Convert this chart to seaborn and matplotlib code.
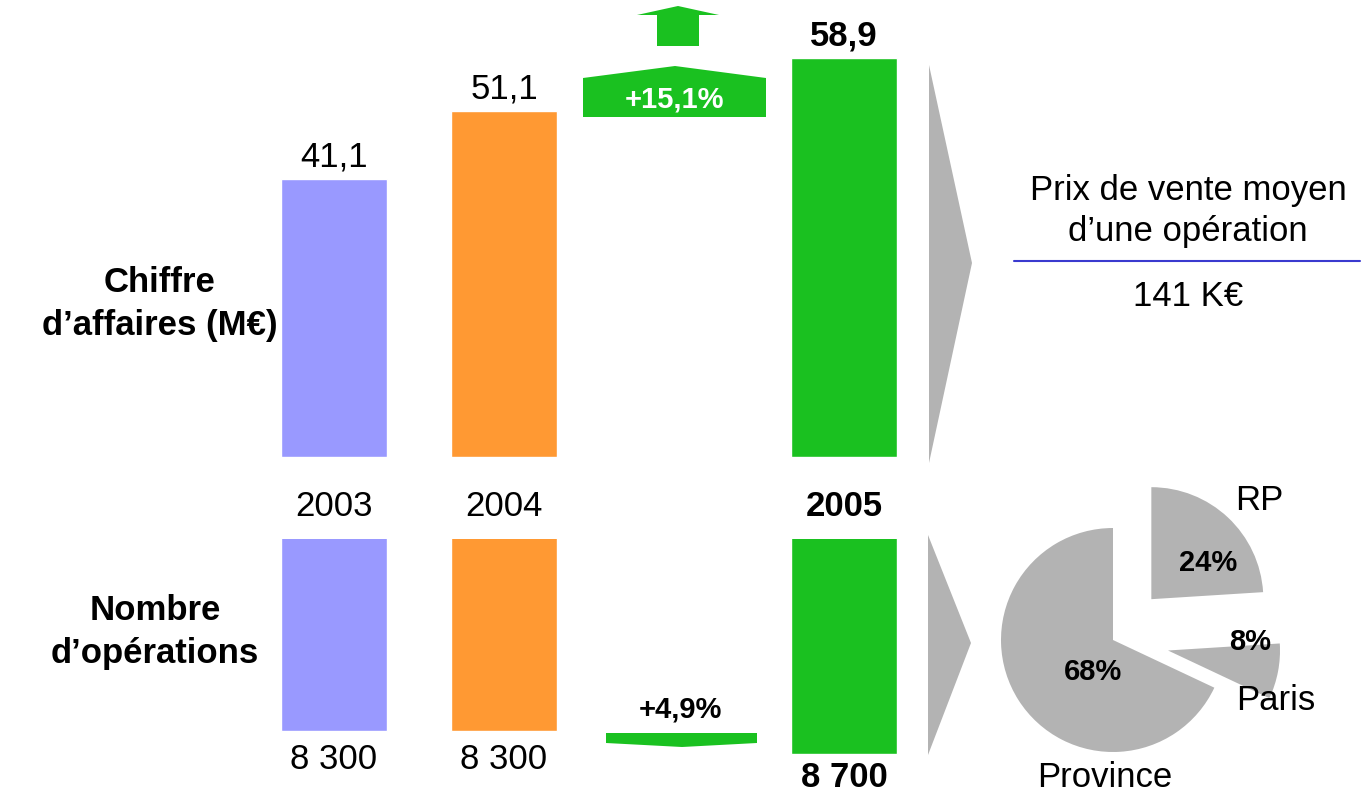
import numpy as np
import pandas as pd
import matplotlib
matplotlib.use('Agg')
import matplotlib.pyplot as plt
import seaborn as sns
from matplotlib.patches import Polygon

# data
years = ['2003', '2004', '2005']
chiffre_affaires = [41.1, 51.1, 58.9]      # M€
nb_operations = [8300, 8300, 8700]
bar_colors = ['#9999ff', '#ff9933', '#1ac120']

growth_ca = '+15,1%'
growth_ops = '+4,9%'
prix_moyen = '141 K€'

zones = ['Province', 'Paris', 'RP']
zone_shares = [68, 8, 24]

W, H = 1362, 799
GREEN = '#1ac120'
GREY = '#b3b3b3'

sns.set_theme(style='white')
plt.rcParams['font.family'] = ['Liberation Sans', 'DejaVu Sans']
plt.rcParams['text.color'] = 'black'
plt.rcParams['xtick.color'] = 'black'
plt.rcParams['axes.labelcolor'] = 'black'

fig = plt.figure(figsize=(W / 100, H / 100), dpi=100)


def px_axes(left, top, width, height):
    # axes placed with pixel coords measured from the top-left corner
    ax = fig.add_axes([left / W, 1 - (top + height) / H, width / W, height / H])
    ax.patch.set_visible(False)
    return ax


df = pd.DataFrame({'annee': years, 'ca': chiffre_affaires, 'ops': nb_operations})
palette = dict(zip(years, bar_colors))
slots = ['2003', '2004', 'gap', '2005']

# --- chiffre d'affaires
ax1 = px_axes(249, 17, 680, 440)
sns.barplot(df, x='annee', y='ca', hue='annee', palette=palette, order=slots,
            width=0.62, saturation=1, legend=False, ax=ax1)
ax1.set_xlim(-0.5, 3.5)
ax1.set_ylim(0, 65)
ax1.set_xticks([0, 1, 3])
ax1.set_xticklabels(years, fontsize=25)
ax1.get_xticklabels()[2].set_fontweight('bold')
ax1.tick_params(axis='x', length=0, pad=24)
ax1.set_yticks([])
ax1.set_xlabel('')
ax1.set_ylabel('')
sns.despine(ax=ax1, left=True, bottom=True)
for c, yr in zip(ax1.containers, years):
    txt = ax1.bar_label(c, fmt=lambda v: f'{v:.1f}'.replace('.', ','), padding=4, fontsize=25)
    if yr == '2005':
        txt[0].set_fontweight('bold')

# --- nombre d'opérations (axis truncated, bars hanging down)
ax2 = px_axes(249, 539, 680, 260)
sns.barplot(df, x='annee', y='ops', hue='annee', palette=palette, order=slots,
            width=0.62, saturation=1, legend=False, ax=ax2)
ax2.set_xlim(-0.5, 3.5)
ax2.set_ylim(9483, 4961)
ax2.set_xticks([])
ax2.set_yticks([])
ax2.set_xlabel('')
ax2.set_ylabel('')
sns.despine(ax=ax2, left=True, bottom=True)
for c, yr in zip(ax2.containers, years):
    bold = yr == '2005'
    txt = ax2.bar_label(c, fmt=lambda v: f'{v:,.0f}'.replace(',', ' '),
                        padding=5 if bold else 9, fontsize=25)
    if bold:
        txt[0].set_fontweight('bold')

# --- pie of operations by zone
L = 1.6
S = 2 * L * 112
ax3 = px_axes(1113 - S / 2, 640 - S / 2, S, S)
wedges, labels, pcts = ax3.pie(zone_shares, labels=zones, startangle=90,
                               explode=[0, 0.5, 0.5], colors=[GREY] * 3,
                               autopct='%d%%', wedgeprops=dict(linewidth=0),
                               textprops=dict(fontsize=25))
ax3.set_xlim(-L, L)
ax3.set_ylim(-L, L)
ax3.set_aspect('equal')
ax3.axis('off')
for t, pos in zip(labels, [(-0.07, -1.23), (1.45, -0.54), (1.31, 1.25)]):
    t.set_position(pos)
    t.set_ha('center')
    t.set_va('center')
for t, pos in zip(pcts, [(-0.18, -0.29), (1.22, -0.02), (0.85, 0.69)]):
    t.set_position(pos)
    t.set_fontsize(21)
    t.set_fontweight('bold')

# overlay for the decorations (arrows, side labels), drawn on top
ov = px_axes(0, 0, W, H)
ov.set_xlim(0, W)
ov.set_ylim(H, 0)
ov.axis('off')

# --- side labels
ov.text(160, 304, 'Chiffre\nd’affaires (M€)', ha='center', va='center',
        fontsize=25, fontweight='bold', linespacing=1.4)
ov.text(155, 632, 'Nombre\nd’opérations', ha='center', va='center',
        fontsize=25, fontweight='bold', linespacing=1.4)

# --- growth arrows
ov.add_patch(Polygon([(637, 15), (678, 6), (719, 15), (699, 15), (699, 46),
                      (657, 46), (657, 15)], closed=True, color=GREEN, lw=0))
ov.add_patch(Polygon([(583, 117), (583, 78), (675, 66), (766, 78), (766, 117)],
                     closed=True, color=GREEN, lw=0))
ov.text(675, 99, growth_ca, ha='center', va='center', color='white',
        fontsize=21, fontweight='bold')
ov.add_patch(Polygon([(606, 733), (757, 733), (757, 743), (682, 747), (606, 743)],
                     closed=True, color=GREEN, lw=0))
ov.text(680, 709, growth_ops, ha='center', va='center', color='black',
        fontsize=21, fontweight='bold')

# --- grey chevrons
ov.add_patch(Polygon([(929, 65), (972, 263), (929, 463)], closed=True, color=GREY, lw=0))
ov.add_patch(Polygon([(928, 535), (971, 643), (928, 755)], closed=True, color=GREY, lw=0))

# --- prix moyen
ov.text(1188, 211, 'Prix de vente moyen\nd’une opération', ha='center', va='center',
        fontsize=25, linespacing=1.3)
ov.plot([1014, 1360], [261, 261], color='#3a3acf', lw=1.5)
ov.text(1188, 297, prix_moyen, ha='center', va='center', fontsize=25)

fig.savefig('out.png', dpi=100)
